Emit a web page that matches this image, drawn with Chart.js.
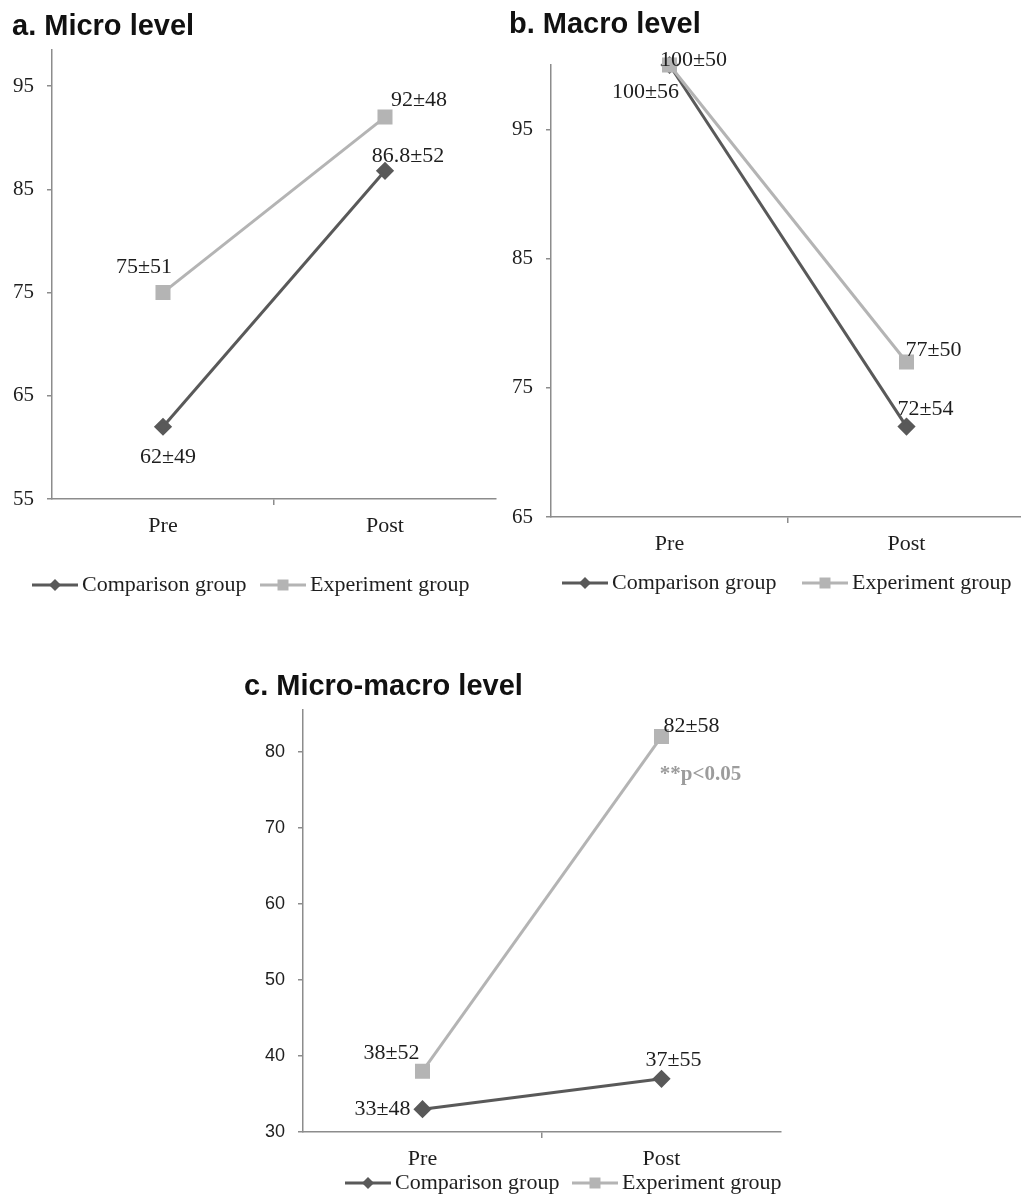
<!DOCTYPE html>
<html>
<head>
<meta charset="utf-8">
<script src="https://cdn.jsdelivr.net/npm/chart.js@4.4.1/dist/chart.umd.min.js"></script>
<style>
  html, body { margin: 0; padding: 0; background: #ffffff; }
  body { width: 1021px; height: 1195px; overflow: hidden; position: relative; }
  canvas { position: absolute; }
</style>
</head>
<body>
<canvas id="chartA" width="500" height="600" style="left:0px;top:0px;width:500px;height:600px;"></canvas>
<canvas id="chartB" width="530" height="600" style="left:500px;top:0px;width:530px;height:600px;"></canvas>
<canvas id="chartC" width="560" height="545" style="left:240px;top:650px;width:560px;height:545px;"></canvas>
<script>
// ---------------- DATA ----------------
const categories = ['Pre', 'Post'];
const seriesNames = ['Comparison group', 'Experiment group'];

const microTitle = 'a. Micro level';
const microComparison = [62, 86.8];
const microComparisonSD = [49, 52];
const microExperiment = [75, 92];
const microExperimentSD = [51, 48];
const microTicks = [55, 65, 75, 85, 95];

const macroTitle = 'b. Macro level';
const macroComparison = [100, 72];
const macroComparisonSD = [56, 54];
const macroExperiment = [100, 77];
const macroExperimentSD = [50, 50];
const macroTicks = [65, 75, 85, 95];

const mmTitle = 'c. Micro-macro level';
const mmComparison = [33, 37];
const mmComparisonSD = [48, 55];
const mmExperiment = [38, 82];
const mmExperimentSD = [52, 58];
const mmTicks = [30, 40, 50, 60, 70, 80];
const mmNote = '**p<0.05';

// ---------------- STYLE ----------------
const SERIF = "'Liberation Serif', 'Times New Roman', serif";
const SANS = "'Liberation Sans', Arial, sans-serif";
const COMP_COLOR = '#595959';
const EXP_COLOR = '#b4b4b4';
const AXIS_COLOR = '#8c8c8c';
const TEXT_COLOR = '#1e1e1e';

function pm(values, sds) { return values.map((v, i) => v + '±' + sds[i]); }

const overlay = {
  id: 'overlay',
  afterDatasetsDraw(chart, args, o) {
    const ctx = chart.ctx;
    ctx.save();
    // data labels
    ctx.font = '22px ' + SERIF;
    ctx.fillStyle = TEXT_COLOR;
    ctx.textAlign = 'center';
    ctx.textBaseline = 'middle';
    chart.data.datasets.forEach((ds, di) => {
      const meta = chart.getDatasetMeta(di);
      meta.data.forEach((pt, i) => {
        const off = o.labelOffsets[di][i];
        ctx.fillText(ds.valueLabels[i], pt.x + off[0], pt.y + off[1]);
      });
    });
    // note
    if (o.note) {
      const meta = chart.getDatasetMeta(o.note.dataset);
      const pt = meta.data[o.note.index];
      ctx.font = 'bold 21px ' + SERIF;
      ctx.fillStyle = '#9c9c9c';
      ctx.fillText(o.note.text, pt.x + o.note.offset[0], pt.y + o.note.offset[1]);
    }
    // title
    ctx.font = 'bold 29px ' + SANS;
    ctx.fillStyle = '#111111';
    ctx.textAlign = 'left';
    ctx.fillText(o.title.text, o.title.x, o.title.y);
    // legend
    ctx.font = '22px ' + SERIF;
    chart.data.datasets.forEach((ds, di) => {
      const x = o.legend.x[di];
      const y = o.legend.y;
      const len = 46;
      ctx.strokeStyle = ds.borderColor;
      ctx.lineWidth = 3;
      ctx.beginPath();
      ctx.moveTo(x, y);
      ctx.lineTo(x + len, y);
      ctx.stroke();
      ctx.fillStyle = ds.borderColor;
      const cx = x + len / 2;
      ctx.beginPath();
      if (ds.pointStyle === 'rectRot') {
        const r = 6;
        ctx.moveTo(cx - r, y); ctx.lineTo(cx, y - r); ctx.lineTo(cx + r, y); ctx.lineTo(cx, y + r);
        ctx.closePath();
      } else {
        ctx.rect(cx - 5.5, y - 5.5, 11, 11);
      }
      ctx.fill();
      ctx.fillStyle = TEXT_COLOR;
      ctx.fillText(seriesNames[di], x + len + 4, y);
    });
    ctx.restore();
  }
};

function makeChart(id, spec) {
  const datasets = [
    {
      label: seriesNames[0],
      data: spec.comp,
      valueLabels: pm(spec.comp, spec.compSD),
      borderColor: COMP_COLOR,
      backgroundColor: COMP_COLOR,
      pointBackgroundColor: COMP_COLOR,
      pointBorderColor: COMP_COLOR,
      pointStyle: 'rectRot',
      pointRadius: 7,
      borderWidth: 3,
      order: 1,
      clip: false
    },
    {
      label: seriesNames[1],
      data: spec.exp,
      valueLabels: pm(spec.exp, spec.expSD),
      borderColor: EXP_COLOR,
      backgroundColor: EXP_COLOR,
      pointBackgroundColor: EXP_COLOR,
      pointBorderColor: EXP_COLOR,
      pointStyle: 'rect',
      pointRadius: 8.5,
      borderWidth: 3,
      order: 0,
      clip: false
    }
  ];
  return new Chart(document.getElementById(id), {
    type: 'line',
    data: { labels: categories, datasets },
    plugins: [overlay],
    options: {
      responsive: false,
      animation: false,
      devicePixelRatio: 1,
      layout: { autoPadding: false, padding: { top: spec.plotTop, right: spec.padRight, left: 0, bottom: 0 } },
      plugins: {
        legend: { display: false },
        tooltip: { enabled: false },
        overlay: {
          labelOffsets: spec.labelOffsets,
          title: spec.title,
          legend: spec.legend,
          note: spec.note || null
        }
      },
      scales: {
        x: {
          type: 'category',
          offset: true,
          grid: {
            display: true, drawOnChartArea: false, offset: true, tickLength: 6, lineWidth: 1.5,
            color: (c) => (c.index === 1 ? AXIS_COLOR : 'rgba(0,0,0,0)')
          },
          border: { display: true, color: AXIS_COLOR, width: 1.5 },
          ticks: { font: { family: SERIF, size: 22 }, color: TEXT_COLOR, padding: 8 },
          afterFit: (s) => { s.height = spec.xHeight; }
        },
        y: {
          min: spec.yMin,
          max: spec.yMax,
          afterBuildTicks: (s) => { s.ticks = spec.ticks.map(v => ({ value: v })); },
          grid: { display: true, drawOnChartArea: false, tickLength: 5, color: AXIS_COLOR, lineWidth: 1.5 },
          border: { display: true, color: AXIS_COLOR, width: 1.5 },
          ticks: { font: { family: spec.tickFamily, size: spec.tickSize }, color: TEXT_COLOR, padding: 13 },
          afterFit: (s) => { s.width = spec.yWidth; }
        }
      }
    }
  });
}

makeChart('chartA', {
  comp: microComparison, compSD: microComparisonSD,
  exp: microExperiment, expSD: microExperimentSD,
  ticks: microTicks, yMin: 55, yMax: 98.5,
  tickFamily: SERIF, tickSize: 21,
  plotTop: 50, padRight: 4, yWidth: 52, xHeight: 101,
  labelOffsets: [[[5, 30], [23, -15]], [[-19, -25], [34, -17]]],
  title: { text: microTitle, x: 12, y: 27 },
  legend: { x: [32, 260], y: 585 }
});

makeChart('chartB', {
  comp: macroComparison, compSD: macroComparisonSD,
  exp: macroExperiment, expSD: macroExperimentSD,
  ticks: macroTicks, yMin: 65, yMax: 100,
  tickFamily: SERIF, tickSize: 21,
  plotTop: 65, padRight: 5, yWidth: 51, xHeight: 83,
  labelOffsets: [[[-24, 27], [19, -17]], [[24, -5], [27, -12]]],
  title: { text: macroTitle, x: 9, y: 25 },
  legend: { x: [62, 302], y: 583 }
});

makeChart('chartC', {
  comp: mmComparison, compSD: mmComparisonSD,
  exp: mmExperiment, expSD: mmExperimentSD,
  ticks: mmTicks, yMin: 30, yMax: 85.5,
  tickFamily: SANS, tickSize: 18,
  plotTop: 60, padRight: 19, yWidth: 63, xHeight: 63,
  labelOffsets: [[[-40, 0], [12, -19]], [[-31, -18], [30, -10]]],
  title: { text: mmTitle, x: 4, y: 37 },
  legend: { x: [105, 332], y: 533 },
  note: { text: mmNote, dataset: 1, index: 1, offset: [39, 38] }
});
</script>
</body>
</html>
